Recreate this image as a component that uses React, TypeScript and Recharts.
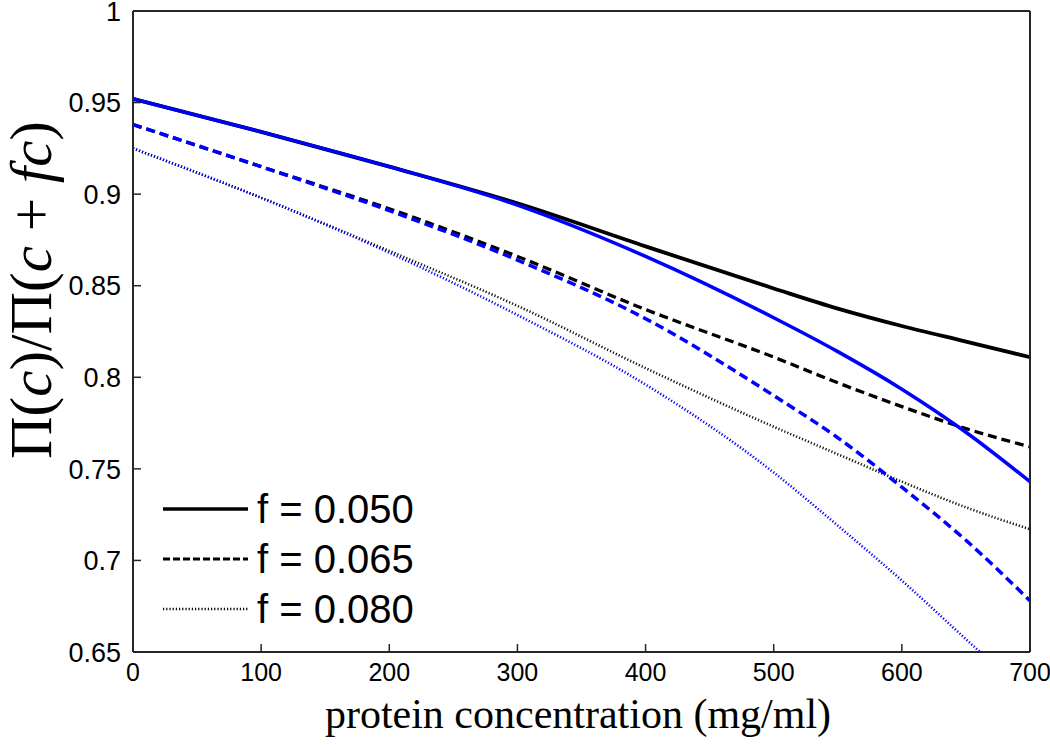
import { LineChart, Line, XAxis, YAxis } from 'recharts';

// concentration grid (mg/ml)
const concX = [0, 100, 200, 300, 400, 500, 550, 600, 650, 700];
const blueDottedX = [0, 100, 200, 300, 400, 500, 550, 600, 650, 661];

// black curves
const blackF050 = [0.952, 0.934, 0.915, 0.895, 0.8715, 0.8485, 0.8375, 0.828, 0.8195, 0.811];
const blackF065 = [0.938, 0.915, 0.892, 0.866, 0.837, 0.811, 0.797, 0.784, 0.772, 0.762];
const blackF080 = [0.925, 0.898, 0.869, 0.839, 0.805, 0.773, 0.758, 0.743, 0.729, 0.717];
// blue curves
const blueF050 = [0.952, 0.934, 0.915, 0.894, 0.866, 0.8325, 0.814, 0.7935, 0.770, 0.743];
const blueF065 = [0.938, 0.915, 0.891, 0.864, 0.832, 0.790, 0.767, 0.740, 0.711, 0.678];
const blueF080 = [0.925, 0.898, 0.868, 0.834, 0.796, 0.748, 0.719, 0.689, 0.657, 0.650];

const xTicks = [0, 100, 200, 300, 400, 500, 600, 700];
const yTicks = [0.65, 0.7, 0.75, 0.8, 0.85, 0.9, 0.95, 1];
const legendLabels = ['f = 0.050', 'f = 0.065', 'f = 0.080'];

const toPoints = (xs: number[], ys: number[]) => xs.map((x, i) => ({ x, y: ys[i] }));

const AXIS = '#262626';
const TICK_FONT = '"Liberation Sans", Arial, sans-serif';
const SERIF = '"Liberation Serif", "DejaVu Serif", serif';

const BottomTick = (props: any) => {
  const { x, y, payload } = props;
  return (
    <g>
      <line x1={x} x2={x} y1={y} y2={y - 8} stroke={AXIS} strokeWidth={1.5} />
      <text x={x} y={y + 29} textAnchor="middle" fontSize={25} fontFamily={TICK_FONT} fill="#000">
        {payload.value}
      </text>
    </g>
  );
};

const LeftTick = (props: any) => {
  const { x, y, payload } = props;
  return (
    <g>
      <line x1={x} x2={x + 8} y1={y} y2={y} stroke={AXIS} strokeWidth={1.5} />
      <text x={x - 12} y={y} dy="0.36em" textAnchor="end" fontSize={27} fontFamily={TICK_FONT} fill="#000">
        {String(Math.round(payload.value * 100) / 100)}
      </text>
    </g>
  );
};

const TopTick = (props: any) => {
  const { x, y } = props;
  return <line x1={x} x2={x} y1={y} y2={y + 8} stroke={AXIS} strokeWidth={1.5} />;
};

const RightTick = (props: any) => {
  const { x, y } = props;
  return <line x1={x} x2={x - 8} y1={y} y2={y} stroke={AXIS} strokeWidth={1.5} />;
};

const legendStyles = [
  { dash: undefined, width: 3.5 },
  { dash: '7 3', width: 3 },
  { dash: '1.2 2', width: 2.5 },
];

export default function App() {
  return (
    <div style={{ position: 'absolute', left: 0, top: 0, width: 1050, height: 745, background: '#fff' }}>
      <LineChart width={1050} height={745} margin={{ top: 10, right: 19, bottom: 0, left: 0 }}>
        <XAxis
          dataKey="x"
          type="number"
          domain={[0, 700]}
          ticks={xTicks}
          interval={0}
          allowDataOverflow
          height={93}
          tickSize={0}
          tickMargin={0}
          tickLine={false}
          axisLine={{ stroke: AXIS, strokeWidth: 2 }}
          tick={BottomTick}
        />
        <XAxis
          xAxisId="top"
          orientation="top"
          dataKey="x"
          type="number"
          domain={[0, 700]}
          ticks={xTicks}
          interval={0}
          height={1}
          tickSize={0}
          tickMargin={0}
          tickLine={false}
          axisLine={{ stroke: AXIS, strokeWidth: 2 }}
          tick={TopTick}
        />
        <YAxis
          type="number"
          domain={[0.65, 1]}
          ticks={yTicks}
          interval={0}
          allowDataOverflow
          width={133}
          tickSize={0}
          tickMargin={0}
          tickLine={false}
          axisLine={{ stroke: AXIS, strokeWidth: 2 }}
          tick={LeftTick}
        />
        <YAxis
          yAxisId="right"
          orientation="right"
          type="number"
          domain={[0.65, 1]}
          ticks={yTicks}
          interval={0}
          width={1}
          tickSize={0}
          tickMargin={0}
          tickLine={false}
          axisLine={{ stroke: AXIS, strokeWidth: 2 }}
          tick={RightTick}
        />
        <Line data={toPoints(concX, blackF050)} dataKey="y" type="monotone" stroke="#000" strokeWidth={3.8} dot={false} isAnimationActive={false} />
        <Line data={toPoints(concX, blackF065)} dataKey="y" type="monotone" stroke="#000" strokeWidth={3.3} strokeDasharray="9 5" dot={false} isAnimationActive={false} />
        <Line data={toPoints(concX, blackF080)} dataKey="y" type="monotone" stroke="#111" strokeWidth={2.6} strokeDasharray="1.2 2" dot={false} isAnimationActive={false} />
        <Line data={toPoints(concX, blueF050)} dataKey="y" type="monotone" stroke="#0000ff" strokeWidth={3.5} dot={false} isAnimationActive={false} />
        <Line data={toPoints(concX, blueF065)} dataKey="y" type="monotone" stroke="#0000ff" strokeWidth={3.5} strokeDasharray="9 5" dot={false} isAnimationActive={false} />
        <Line data={toPoints(blueDottedX, blueF080)} dataKey="y" type="monotone" stroke="#0000ff" strokeWidth={2.6} strokeDasharray="1.2 2" dot={false} isAnimationActive={false} />
      </LineChart>

      <svg width={1050} height={745} style={{ position: 'absolute', left: 0, top: 0, pointerEvents: 'none' }}>
        <text transform="translate(51, 290) rotate(-90)" textAnchor="middle" fontSize={59} fontFamily={SERIF} fill="#000" xmlSpace="preserve">
          <tspan>Π(</tspan>
          <tspan fontStyle="italic">c</tspan>
          <tspan>)/Π(</tspan>
          <tspan fontStyle="italic">c</tspan>
          <tspan> + </tspan>
          <tspan fontStyle="italic">fc</tspan>
          <tspan>)</tspan>
        </text>
        <text x={578} y={728} textAnchor="middle" fontSize={42} fontFamily={SERIF} fill="#000">
          protein concentration (mg/ml)
        </text>
        {legendLabels.map((label, i) => {
          const cy = 509 + i * 50;
          const st = legendStyles[i];
          return (
            <g key={label}>
              <line x1={163} x2={248} y1={cy} y2={cy} stroke="#000" strokeWidth={st.width} strokeDasharray={st.dash} />
              <text x={257} y={cy} dy="0.35em" fontSize={40} fontFamily={TICK_FONT} fill="#000">
                {label}
              </text>
            </g>
          );
        })}
      </svg>
    </div>
  );
}
